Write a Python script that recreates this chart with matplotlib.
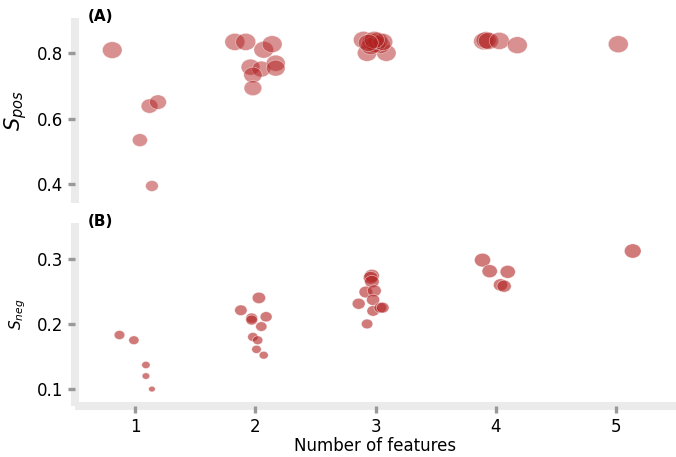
import numpy as np
import matplotlib
matplotlib.use("Agg")
import matplotlib.pyplot as plt
from matplotlib.path import Path
from matplotlib.markers import MarkerStyle

# ---- data ----
pos_x = [0.81, 1.12, 1.19, 1.04, 1.14,
         1.83, 1.92, 2.07, 2.14, 1.96, 2.05, 2.17, 2.17, 1.98, 1.98,
         2.90, 2.93, 3.09, 3.04, 2.97, 3.00, 3.02, 2.96, 3.06, 2.99, 2.94,
         3.90, 3.92, 3.94, 4.03, 4.18,
         5.02]
pos_y = [0.809, 0.638, 0.650, 0.534, 0.394,
         0.834, 0.834, 0.810, 0.827, 0.757, 0.751, 0.769, 0.754, 0.733, 0.693,
         0.840, 0.800, 0.800, 0.824, 0.834, 0.827, 0.837, 0.821, 0.834, 0.840, 0.831,
         0.836, 0.839, 0.837, 0.837, 0.824,
         0.827]

neg_x = [0.87, 0.99, 1.09, 1.09, 1.14,
         2.03, 1.88, 1.97, 1.97, 2.09, 2.05, 1.98, 2.02, 2.01, 2.07,
         2.97, 2.96, 2.97, 2.92, 2.99, 2.98, 2.86, 2.98, 3.04, 3.06, 2.93,
         3.89, 3.95, 4.10, 4.04, 4.07,
         5.14]
neg_y = [0.183, 0.175, 0.137, 0.120, 0.100,
         0.240, 0.221, 0.209, 0.206, 0.211, 0.196, 0.180, 0.175, 0.161, 0.152,
         0.274, 0.271, 0.265, 0.249, 0.251, 0.237, 0.231, 0.220, 0.225, 0.225, 0.200,
         0.298, 0.281, 0.280, 0.260, 0.258,
         0.312]

x_ticks = [1, 2, 3, 4, 5]
pos_ticks = [0.4, 0.6, 0.8]
neg_ticks = [0.1, 0.2, 0.3]

# ---- style ----
COLOR = "#b22222"
SPINE = "#ebebeb"
TICK = "#999999"
PX2PT = 72.0 / 100.0

# ellipse marker (wider than tall)
circ = Path.unit_circle()
ell = Path(circ.vertices * np.array([1.0, 0.85]), circ.codes)
marker = MarkerStyle(ell)

fig = plt.figure(figsize=(6.76, 4.57), dpi=100)
W, H = 676.0, 457.0
ax1 = fig.add_axes([75 / W, 1 - 203 / H, (676 - 75) / W, (203 - 18) / H])
ax2 = fig.add_axes([75 / W, 1 - 406 / H, (676 - 75) / W, (406 - 223) / H])

pos_y_arr = np.array(pos_y)
neg_y_arr = np.array(neg_y)
pos_w = 12.7 + 16.6 * (pos_y_arr - 0.39)        # marker width in px
neg_w = 6.7 + 47.6 * (neg_y_arr - 0.10)

ax1.scatter(pos_x, pos_y, s=(pos_w * PX2PT) ** 2, marker=marker, c=COLOR,
            alpha=0.5, edgecolors="white", linewidths=0.5, zorder=3)
ax2.scatter(neg_x, neg_y, s=(neg_w * PX2PT) ** 2, marker=marker, c=COLOR,
            alpha=0.6, edgecolors="white", linewidths=0.5, zorder=3)

ax1.set_xlim(0.5, 5.5)
ax2.set_xlim(0.5, 5.5)
ax1.set_ylim(0.342, 0.907)
ax2.set_ylim(0.074, 0.355)

for ax in (ax1, ax2):
    ax.set_facecolor("white")
    ax.spines["top"].set_visible(False)
    ax.spines["right"].set_visible(False)
    for s in ("left", "bottom"):
        ax.spines[s].set_color(SPINE)
        ax.spines[s].set_linewidth(5.8)
        ax.spines[s].set_capstyle("butt")
        ax.spines[s].set_zorder(0.5)
    ax.xaxis.set_zorder(2.6)
    ax.yaxis.set_zorder(2.6)
    ax.tick_params(axis="both", which="major", color=TICK, width=2.4,
                   length=5, labelsize=12, labelcolor="black", pad=3.5)

ax1.spines["bottom"].set_visible(False)
ax1.tick_params(axis="x", bottom=False, labelbottom=False)
ax1.set_xticks(x_ticks)
ax2.set_xticks(x_ticks)
ax2.set_xticklabels([str(t) for t in x_ticks])
ax1.set_yticks(pos_ticks)
ax1.set_yticklabels(["%.1f" % t for t in pos_ticks])
ax2.set_yticks(neg_ticks)
ax2.set_yticklabels(["%.1f" % t for t in neg_ticks])

ax1.set_ylabel(r"$S_{pos}$", fontsize=15)
ax1.yaxis.set_label_coords(-0.076, 0.5)
ax2.set_ylabel(r"$S_{neg}$", fontsize=11)
ax2.yaxis.set_label_coords(-0.078, 0.5)
ax2.set_xlabel("Number of features", fontsize=12, labelpad=1)

ax1.text(0.0216, 1.007, "(A)", transform=ax1.transAxes, fontsize=11,
         fontweight="bold", ha="left", va="center")
ax2.text(0.0216, 1.007, "(B)", transform=ax2.transAxes, fontsize=11,
         fontweight="bold", ha="left", va="center")

fig.savefig("out.png", dpi=100)
